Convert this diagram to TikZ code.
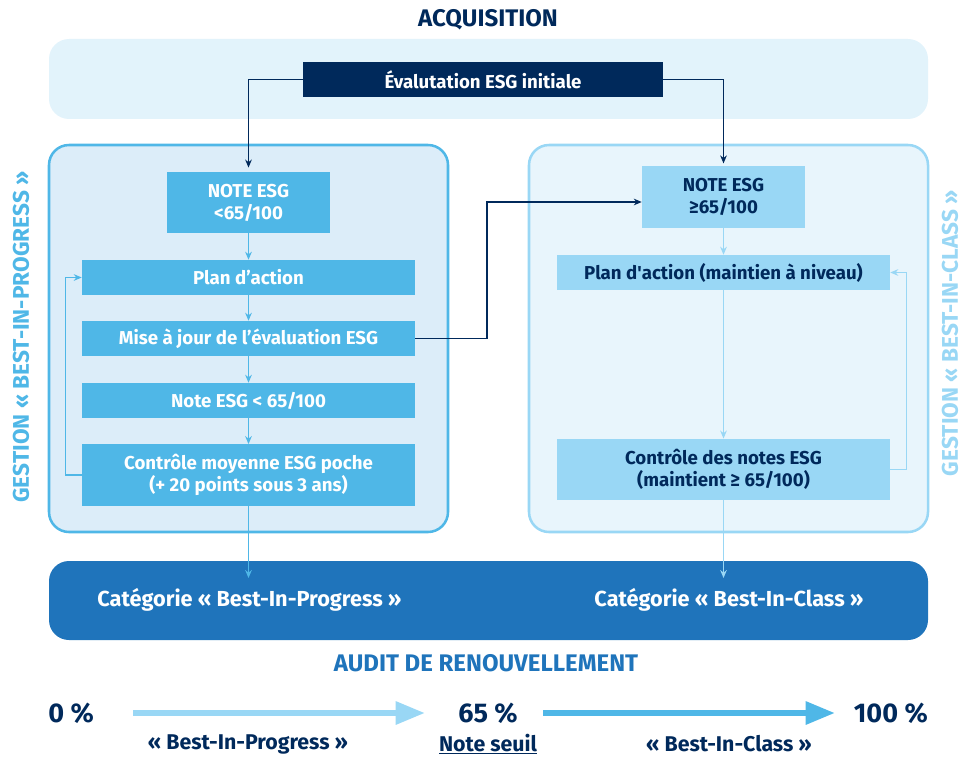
\documentclass[tikz,border=0pt]{standalone}
\usepackage{fontspec}
\setmainfont{Fira Sans}
\usetikzlibrary{arrows.meta, calc}
\definecolor{navy}{HTML}{00295B}
\definecolor{bandblue}{HTML}{1F74BB}
\definecolor{midsky}{HTML}{4FB7E7}
\definecolor{lightsky}{HTML}{99D7F5}
\definecolor{topfill}{HTML}{E2F3FB}
\definecolor{leftfill}{HTML}{DCEDF9}
\definecolor{rightfill}{HTML}{E8F5FC}
\newcommand{\fsize}[2]{\fontsize{#1}{#2}\selectfont\bfseries}

\begin{document}
\begin{tikzpicture}[x=0.75pt, y=-0.75pt]
    % flow boxes
    \tikzstyle{box}=[inner sep=0, align=center, font=\fsize{14}{16.5}]
    \tikzstyle{darkbox}=[box, fill=midsky, text=white]
    \tikzstyle{lightbox}=[box, fill=lightsky, text=navy]
    \tikzstyle{note}=[minimum width=122.25pt, minimum height=46pt]
    \tikzstyle{wide}=[minimum width=249.75pt, minimum height=26.25pt]
    \tikzstyle{tall}=[minimum width=249.75pt, minimum height=46pt]
    % connectors
    \tikzstyle{link}=[-{Stealth[length=6pt, width=5pt]}, line width=0.9pt]
    \tikzstyle{bigarrow}=[-{Triangle[length=22pt, width=16.5pt]}, line width=4.5pt]
    % headings and captions
    \tikzstyle{heading}=[inner sep=0, font=\fsize{18}{21}]
    \tikzstyle{side}=[inner sep=0, rotate=90, font=\fsize{17}{20}]
    \tikzstyle{cat}=[inner sep=0, text=white, font=\fsize{16.3}{19}]
    \tikzstyle{pct}=[inner sep=0, text=navy, font=\fsize{20.3}{23}]
    \tikzstyle{sub}=[inner sep=0, text=navy, font=\fsize{16}{19}]
    \useasboundingbox (0,0) rectangle (962,756);

    % Acquisition band
    \node[heading, text=navy] (acq) at (488,20) {ACQUISITION};
    \fill[topfill, rounded corners=15pt] (49,39) rectangle (928,119);
    \node[box, fill=navy, text=white, minimum width=270pt, minimum height=26.25pt] (eval) at (483,79.5) {Évalutation ESG initiale};

    % Panels
    \draw[line width=1.9pt, draw=midsky, fill=leftfill, rounded corners=15pt] (49,145) rectangle (448,532);
    \draw[line width=1.9pt, draw=lightsky, fill=rightfill, rounded corners=15pt] (529,145) rectangle (928,532);
    \node[side, text=midsky] (gbp) at (21,337) {GESTION « BEST-IN-PROGRESS »};
    \node[side, text=lightsky] (gbc) at (950,333) {GESTION « BEST-IN-CLASS »};

    % Best-In-Progress column
    \node[darkbox, note] (noteL) at (248.5,202.5) {NOTE ESG\\<65/100};
    \node[darkbox, wide] (planL) at (248.5,277.5) {Plan d’action};
    \node[darkbox, wide] (misL) at (248.5,338.5) {Mise à jour de l’évaluation ESG};
    \node[darkbox, wide] (noteL2) at (248.5,400.5) {Note ESG < 65/100};
    \node[darkbox, tall] (ctrlL) at (248.5,475) {Contrôle moyenne ESG poche\\(+ 20 points sous 3 ans)};

    % Best-In-Class column
    \node[lightbox, note] (noteR) at (723.5,197) {NOTE ESG\\≥65/100};
    \node[lightbox, wide] (planR) at (723.5,272.5) {Plan d\textquotesingle action (maintien à niveau)};
    \node[lightbox, tall] (ctrlR) at (723.5,469.5) {Contrôle des notes ESG\\(maintient ≥ 65/100)};

    % Renewal band
    \fill[bandblue, rounded corners=15pt] (49,561) rectangle (928,640);
    \node[cat] (catL) at (249.5,600) {Catégorie « Best-In-Progress »};
    \node[cat] (catR) at (729,600) {Catégorie « Best-In-Class »};
    \coordinate (inL) at (248.5,578);
    \coordinate (inR) at (723.5,578);
    \node[heading, text=bandblue] (audit) at (486,663) {AUDIT DE RENOUVELLEMENT};

    % connectors
    \draw[link, navy, shorten >=3pt] (eval.west) -| (noteL.north);
    \draw[link, navy, shorten >=2pt] (eval.east) -| (noteR.north);
    \coordinate (turn) at (487,202);
    \draw[link, navy] (misL.east) -| (turn) -- (turn -| noteR.west);
    \foreach \a/\b in {noteL/planL, planL/misL, misL/noteL2, noteL2/ctrlL, ctrlL/inL}
        \draw[link, midsky] (\a) -- (\b);
    \draw[link, midsky] (ctrlL.west) -- ++(-16,0) |- (planL.west);
    \foreach \a/\b in {noteR/planR, planR/ctrlR, ctrlR/inR}
        \draw[link, lightsky] (\a) -- (\b);
    \draw[link, lightsky] (ctrlR.east) -- ++(16,0) |- (planR.east);

    % Threshold scale
    \node[pct, anchor=west] (p0) at (48,713) {0 \%};
    \node[pct] (p65) at (488,713) {65 \%};
    \node[pct, anchor=east] (p100) at (928,713) {100 \%};
    \draw[bigarrow, lightsky] ($(p0.west)+(85,0)$) -- ($(p65)-(63,0)$);
    \draw[bigarrow, midsky] ($(p65)+(55,0)$) -- ($(p100.east)-(93,0)$);
    \node[sub] (lbp) at (248,744) {« Best-In-Progress »};
    \node[sub] (seuil) at (488,744) {\underline{Note seuil}};
    \node[sub] (lbc) at (729,744) {« Best-In-Class »};
\end{tikzpicture}
\end{document}
